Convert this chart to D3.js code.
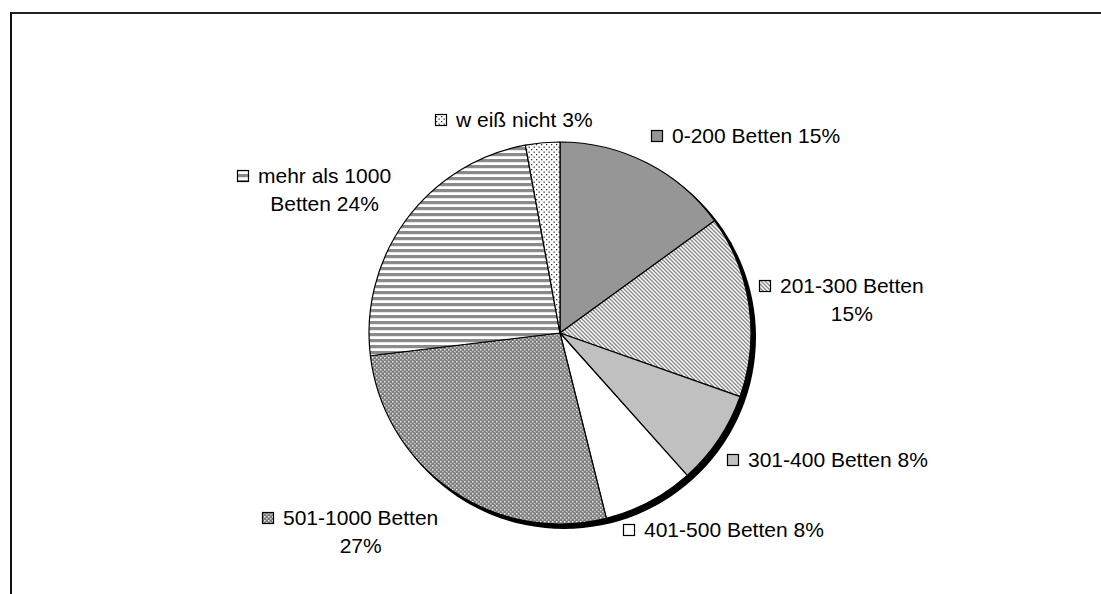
<!DOCTYPE html>
<html>
<head>
<meta charset="utf-8">
<script src="https://cdn.jsdelivr.net/npm/d3@7"></script>
<style>
    html, body { margin: 0; padding: 0; background: #fff; overflow: hidden; }
    svg { display: block; }
    .label { font-family: "Liberation Sans", Arial, sans-serif; font-size: 21px; fill: #000; }
</style>
</head>
<body>
<svg id="graphSVG" width="1101" height="594"></svg>
<script>
// Data (clockwise from 12 o'clock)
const categories = ["0-200 Betten", "201-300 Betten", "301-400 Betten", "401-500 Betten",
    "501-1000 Betten", "mehr als 1000 Betten", "weiß nicht"];
const values = [15.0, 15.4, 8.0, 7.7, 27.0, 24.0, 2.9];
const labelText = [
    ["0-200 Betten 15%"],
    ["201-300 Betten", "15%"],
    ["301-400 Betten 8%"],
    ["401-500 Betten 8%"],
    ["501-1000 Betten", "27%"],
    ["mehr als 1000", "Betten 24%"],
    ["w eiß nicht 3%"]
];
const fills = ["#969696", "url(#diag)", "#c0c0c0", "#ffffff", "url(#checker)", "url(#hstripe)", "url(#dots)"];

// where the labels sit (text start, first baseline)
const labelPos = [[672, 143], [780, 293], [748, 467], [644, 537], [283, 525], [258, 183], [456, 127]];

const svg = d3.select('svg');

// patterns
const defs = svg.append('defs');

const diag = defs.append('pattern').attr('id', 'diag')
    .attr('patternUnits', 'userSpaceOnUse').attr('width', 4).attr('height', 4);
diag.append('rect').attr('width', 4).attr('height', 4).attr('fill', '#fff');
diag.append('path').attr('d', 'M-1,-1 L5,5 M-1,3 L1,5 M3,-1 L5,1')
    .attr('stroke', '#8a8a8a').attr('stroke-width', 1.4);

const checker = defs.append('pattern').attr('id', 'checker')
    .attr('patternUnits', 'userSpaceOnUse').attr('width', 4).attr('height', 4);
checker.append('rect').attr('width', 4).attr('height', 4).attr('fill', '#7c7c7c');
checker.append('rect').attr('width', 1.5).attr('height', 1.5).attr('fill', '#eeeeee');
checker.append('rect').attr('x', 2).attr('y', 2).attr('width', 1.5).attr('height', 1.5).attr('fill', '#d0d0d0');

const hstripe = defs.append('pattern').attr('id', 'hstripe')
    .attr('patternUnits', 'userSpaceOnUse').attr('width', 6).attr('height', 6);
hstripe.append('rect').attr('width', 6).attr('height', 6).attr('fill', '#fff');
hstripe.append('rect').attr('width', 6).attr('height', 3.2).attr('fill', '#8a8a8a');

const dots = defs.append('pattern').attr('id', 'dots')
    .attr('patternUnits', 'userSpaceOnUse').attr('width', 5).attr('height', 5);
dots.append('rect').attr('width', 5).attr('height', 5).attr('fill', '#fff');
dots.append('rect').attr('x', 1).attr('y', 1).attr('width', 1.3).attr('height', 1.3).attr('fill', '#333');
dots.append('rect').attr('x', 3.5).attr('y', 3.5).attr('width', 1.3).attr('height', 1.3).attr('fill', '#333');

// frame: only the top and left edges are inside the picture
svg.append('line')
    .attr('x1', 10).attr('y1', 13).attr('x2', 1101).attr('y2', 13)
    .attr('stroke', '#222').attr('stroke-width', 2);
svg.append('line')
    .attr('x1', 11).attr('y1', 12).attr('x2', 11).attr('y2', 594)
    .attr('stroke', '#111').attr('stroke-width', 2);

const cx = 560;
const cy = 333;
const radius = 191;

const pie = d3.pie().sort(null).value(d => d);
const arcs = pie(values);
const arc = d3.arc().innerRadius(0).outerRadius(radius);

// shadow
svg.append('circle')
    .attr('cx', cx + 4).attr('cy', cy + 4)
    .attr('r', radius + 1)
    .attr('fill', '#000');

const chart = svg.append('g')
    .attr('transform', `translate(${cx}, ${cy})`);

chart.selectAll('path.slice')
    .data(arcs)
    .enter()
    .append('path')
    .attr('class', 'slice')
    .attr('d', arc)
    .attr('fill', (d, i) => fills[i])
    .attr('stroke', '#000')
    .attr('stroke-width', 1.2)
    .attr('stroke-linejoin', 'round');

// labels
const labels = svg.selectAll('g.lab')
    .data(labelText)
    .enter()
    .append('g')
    .attr('class', 'lab');

labels.each(function (lines, i) {
    const g = d3.select(this);
    const x = labelPos[i][0];
    const y = labelPos[i][1];

    g.append('rect')
        .attr('x', x - 20.5).attr('y', y - 12.5)
        .attr('width', 11).attr('height', 11)
        .attr('fill', fills[i])
        .attr('stroke', '#000')
        .attr('stroke-width', 1.2);

    const first = g.append('text')
        .attr('class', 'label')
        .attr('x', x).attr('y', y)
        .text(lines[0]);

    if (lines.length > 1) {
        const w = first.node().getComputedTextLength();
        g.append('text')
            .attr('class', 'label')
            .attr('x', x + w / 2).attr('y', y + 28)
            .attr('text-anchor', 'middle')
            .text(lines[1]);
    }
});
</script>
</body>
</html>
